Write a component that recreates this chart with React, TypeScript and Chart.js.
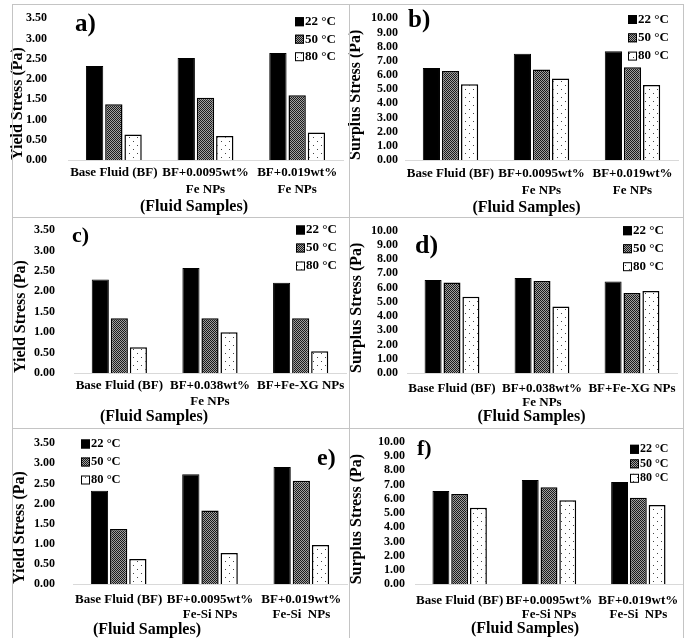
import React, { useEffect, useRef } from 'react';
import { Chart, registerables } from 'chart.js';

Chart.register(...registerables);

const W = 691;
const H = 638;
const FONT = "'Liberation Serif', 'Times New Roman', serif";

// ---------- data ----------
const temperatures = ['22 °C', '50 °C', '80 °C'];

const samplesFe = [['Base Fluid (BF)'], ['BF+0.0095wt%', 'Fe NPs'], ['BF+0.019wt%', 'Fe NPs']];
const samplesFeXG = [['Base Fluid (BF)'], ['BF+0.038wt%', 'Fe NPs'], ['BF+Fe-XG NPs']];
const samplesFeSi = [['Base Fluid (BF)'], ['BF+0.0095wt%', 'Fe-Si NPs'], ['BF+0.019wt%', 'Fe-Si  NPs']];

const yieldTicks = [0, 0.5, 1, 1.5, 2, 2.5, 3, 3.5];
const surplusTicks = [0, 1, 2, 3, 4, 5, 6, 7, 8, 9, 10];

// a) yield stress, Fe NPs
const yieldA22 = [2.32, 2.52, 2.64];
const yieldA50 = [1.38, 1.54, 1.6];
const yieldA80 = [0.63, 0.59, 0.68];
// b) surplus stress, Fe NPs
const surplusB22 = [6.5, 7.5, 7.68];
const surplusB50 = [6.28, 6.38, 6.55];
const surplusB80 = [5.35, 5.75, 5.3];
// c) yield stress, Fe 0.038 / Fe-XG
const yieldC22 = [2.29, 2.57, 2.21];
const yieldC50 = [1.34, 1.34, 1.34];
const yieldC80 = [0.63, 1.0, 0.53];
// d) surplus stress, Fe 0.038 / Fe-XG
const surplusD22 = [6.54, 6.68, 6.43];
const surplusD50 = [6.36, 6.47, 5.63];
const surplusD80 = [5.35, 4.68, 5.77];
// e) yield stress, Fe-Si NPs
const yieldE22 = [2.32, 2.73, 2.91];
const yieldE50 = [1.37, 1.83, 2.57];
const yieldE80 = [0.62, 0.77, 0.97];
// f) surplus stress, Fe-Si NPs
const surplusF22 = [6.54, 7.31, 7.17];
const surplusF50 = [6.33, 6.8, 6.07];
const surplusF80 = [5.37, 5.89, 5.56];

// ---------- layout (page coordinates) ----------
type Panel = {
  id: string;
  yTitle: string;
  ticks: number[];
  categories: string[][];
  series: number[][];
  area: { l: number; r: number; t: number; b: number };
  tickRight: number;
  yTitleX: number;
  xLine1: number;
  xLineH: number;
  xTitleX: number;
  xTitleY: number;
  labelX: number;
  labelY: number;
  labelSize: number;
  legX: number;
  legY: number;
  legGap: number;
  legSize: number;
};

const panels: Panel[] = [
  {
    id: 'a)', yTitle: 'Yield Stress (Pa)', ticks: yieldTicks, categories: samplesFe,
    series: [yieldA22, yieldA50, yieldA80],
    area: { l: 68, r: 343, t: 18.3, b: 160 }, tickRight: 47, yTitleX: 18,
    xLine1: 173, xLineH: 17, xTitleX: 194, xTitleY: 206.7,
    labelX: 75, labelY: 24.5, labelSize: 25,
    legX: 295, legY: 21.7, legGap: 17.5, legSize: 13,
  },
  {
    id: 'b)', yTitle: 'Surplus Stress (Pa)', ticks: surplusTicks, categories: samplesFe,
    series: [surplusB22, surplusB50, surplusB80],
    area: { l: 405, r: 678, t: 18.3, b: 160 }, tickRight: 398, yTitleX: 356,
    xLine1: 174, xLineH: 17, xTitleX: 526.5, xTitleY: 208,
    labelX: 408, labelY: 21, labelSize: 25,
    legX: 628, legY: 19.5, legGap: 18.3, legSize: 13,
  },
  {
    id: 'c)', yTitle: 'Yield Stress (Pa)', ticks: yieldTicks, categories: samplesFeXG,
    series: [yieldC22, yieldC50, yieldC80],
    area: { l: 74, r: 346, t: 230, b: 373 }, tickRight: 55, yTitleX: 21,
    xLine1: 385.7, xLineH: 16, xTitleX: 154, xTitleY: 416.7,
    labelX: 72, labelY: 236.5, labelSize: 22,
    legX: 296, legY: 230, legGap: 18, legSize: 13,
  },
  {
    id: 'd)', yTitle: 'Surplus Stress (Pa)', ticks: surplusTicks, categories: samplesFeXG,
    series: [surplusD22, surplusD50, surplusD80],
    area: { l: 407, r: 677, t: 230.7, b: 373 }, tickRight: 398, yTitleX: 357,
    xLine1: 389, xLineH: 13.5, xTitleX: 531.5, xTitleY: 416.7,
    labelX: 415, labelY: 246, labelSize: 26,
    legX: 623, legY: 230.7, legGap: 18, legSize: 13,
  },
  {
    id: 'e)', yTitle: 'Yield Stress (Pa)', ticks: yieldTicks, categories: samplesFeSi,
    series: [yieldE22, yieldE50, yieldE80],
    area: { l: 73, r: 347, t: 443.3, b: 584 }, tickRight: 55, yTitleX: 20,
    xLine1: 600, xLineH: 15, xTitleX: 147, xTitleY: 630,
    labelX: 317, labelY: 459, labelSize: 24,
    legX: 81, legY: 444, legGap: 18, legSize: 12.5,
  },
  {
    id: 'f)', yTitle: 'Surplus Stress (Pa)', ticks: surplusTicks, categories: samplesFeSi,
    series: [surplusF22, surplusF50, surplusF80],
    area: { l: 415, r: 683, t: 441.7, b: 584.3 }, tickRight: 405, yTitleX: 357,
    xLine1: 600.7, xLineH: 13.5, xTitleX: 525, xTitleY: 629,
    labelX: 417, labelY: 449, labelSize: 22,
    legX: 630, legY: 449.3, legGap: 14.5, legSize: 12,
  },
];

function makePatterns(ctx: CanvasRenderingContext2D) {
  const t1 = document.createElement('canvas');
  t1.width = 2;
  t1.height = 2;
  const c1 = t1.getContext('2d')!;
  c1.fillStyle = '#a0a0a0';
  c1.fillRect(0, 0, 2, 2);
  c1.fillStyle = '#1a1a1a';
  c1.fillRect(0, 0, 1, 1);
  c1.fillRect(1, 1, 1, 1);
  const checker = ctx.createPattern(t1, 'repeat');

  const t2 = document.createElement('canvas');
  t2.width = 8;
  t2.height = 8;
  const c2 = t2.getContext('2d')!;
  c2.fillStyle = '#ffffff';
  c2.fillRect(0, 0, 8, 8);
  c2.fillStyle = '#444444';
  c2.fillRect(1, 1, 1, 1);
  c2.fillRect(5, 5, 1, 1);
  const dots = ctx.createPattern(t2, 'repeat');
  return { checker, dots };
}

const decorPlugin = {
  id: 'decor',
  afterDatasetsDraw(chart: any, _args: any, opts: any) {
    const ctx: CanvasRenderingContext2D = chart.ctx;
    ctx.save();
    ctx.textBaseline = 'middle';
    // legend
    chart.data.datasets.forEach((d: any, i: number) => {
      const cy = opts.legY + i * opts.legGap;
      const bx = opts.legX;
      const by = cy - 4.5;
      ctx.fillStyle = d.backgroundColor;
      ctx.fillRect(bx, by, 9, 9);
      ctx.strokeStyle = '#000';
      ctx.lineWidth = 1;
      ctx.strokeRect(bx + 0.5, by + 0.5, 8, 8);
      ctx.fillStyle = '#000';
      ctx.textAlign = 'left';
      ctx.font = `bold ${opts.legSize}px ${FONT}`;
      ctx.fillText(d.label, bx + 10, cy);
    });
    // panel letter
    ctx.fillStyle = '#000';
    ctx.textAlign = 'left';
    ctx.font = `bold ${opts.labelSize}px ${FONT}`;
    ctx.fillText(opts.label, opts.labelX, opts.labelY);
    // x axis title
    ctx.textAlign = 'center';
    ctx.font = `bold 16px ${FONT}`;
    ctx.fillText(opts.xTitle, opts.xTitleX, opts.xTitleY);
    ctx.restore();
  },
};

function PanelChart({ p }: { p: Panel }) {
  const ref = useRef<HTMLCanvasElement>(null);
  useEffect(() => {
    const canvas = ref.current!;
    const ctx = canvas.getContext('2d')!;
    const pats = makePatterns(ctx);
    const fills: any[] = ['#000000', pats.checker, pats.dots];
    const borders = [1, 1.5, 1.5];
    const titleLH = 16 * 1.2;
    const padLeft = p.yTitleX - titleLH / 2;
    const xAxisH = 44;
    const chart = new Chart(ctx, {
      type: 'bar',
      data: {
        labels: p.categories as any,
        datasets: p.series.map((vals, i) => ({
          label: temperatures[i],
          data: vals,
          backgroundColor: fills[i],
          borderColor: '#000000',
          borderWidth: borders[i],
          barPercentage: 0.9,
          categoryPercentage: 0.63,
        })),
      },
      options: {
        responsive: false,
        animation: false,
        layout: {
          padding: {
            left: padLeft,
            top: p.area.t,
            right: W - p.area.r,
            bottom: H - p.area.b - xAxisH,
          },
        },
        plugins: {
          legend: { display: false },
          tooltip: { enabled: false },
          decor: {
            label: p.id,
            labelX: p.labelX,
            labelY: p.labelY,
            labelSize: p.labelSize,
            legX: p.legX,
            legY: p.legY,
            legGap: p.legGap,
            legSize: p.legSize,
            xTitle: '(Fluid Samples)',
            xTitleX: p.xTitleX,
            xTitleY: p.xTitleY,
          },
        } as any,
        scales: {
          x: {
            type: 'category',
            grid: { display: false, drawTicks: false },
            border: { display: true, color: '#d9d9d9', width: 1 },
            ticks: {
              color: '#000',
              font: { family: FONT, size: 13, weight: 'bold', lineHeight: `${p.xLineH}px` },
              padding: p.xLine1 - p.xLineH / 2 - p.area.b,
              maxRotation: 0,
              minRotation: 0,
              autoSkip: false,
            },
            afterFit: (scale: any) => {
              scale.height = xAxisH;
              scale.paddingLeft = 0;
              scale.paddingRight = 0;
            },
          },
          y: {
            type: 'linear',
            min: p.ticks[0],
            max: p.ticks[p.ticks.length - 1],
            grid: { display: false, drawTicks: false },
            border: { display: false },
            ticks: {
              stepSize: p.ticks[1] - p.ticks[0],
              autoSkip: false,
              color: '#000',
              font: { family: FONT, size: 12, weight: 'bold' },
              padding: p.area.l - p.tickRight,
              callback: (v: any) => Number(v).toFixed(2),
            },
            title: {
              display: true,
              text: p.yTitle,
              align: 'start',
              color: '#000',
              font: { family: FONT, size: 16, weight: 'bold' },
              padding: { top: 0, bottom: 0 },
            },
            afterFit: (scale: any) => {
              scale.width = p.area.l - padLeft;
              scale.paddingTop = 0;
              scale.paddingBottom = 0;
            },
          },
        },
      },
      plugins: [decorPlugin as any],
    });
    return () => chart.destroy();
  }, [p]);
  return (
    <canvas
      ref={ref}
      width={W}
      height={H}
      style={{ position: 'absolute', left: 0, top: 0, width: W, height: H }}
    />
  );
}

const lineColor = '#c4c4c4';

function Line({ x, y, w, h }: { x: number; y: number; w: number; h: number }) {
  return (
    <div style={{ position: 'absolute', left: x, top: y, width: w, height: h, background: lineColor }} />
  );
}

export default function App() {
  return (
    <div style={{ position: 'absolute', left: 0, top: 0, width: W, height: H, background: '#fff', overflow: 'hidden' }}>
      {panels.map((p) => (
        <PanelChart key={p.id} p={p} />
      ))}
      <Line x={12} y={4} w={672} h={1} />
      <Line x={12} y={217} w={672} h={1} />
      <Line x={12} y={428} w={672} h={1} />
      <Line x={12} y={4} w={1} h={634} />
      <Line x={349} y={4} w={1} h={634} />
      <Line x={683} y={4} w={1} h={634} />
    </div>
  );
}
